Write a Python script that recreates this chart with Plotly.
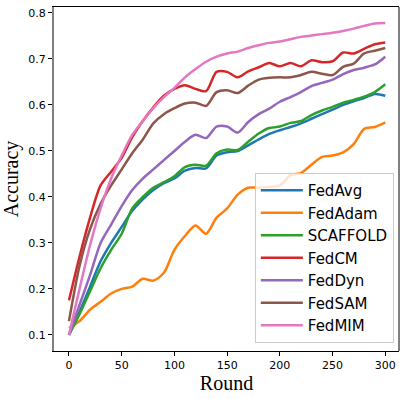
import plotly.graph_objects as go

rounds = list(range(0, 301, 10))

fedavg = [0.100, 0.150, 0.205, 0.260, 0.300, 0.335, 0.370, 0.395, 0.415, 0.430, 0.440,
          0.457, 0.463, 0.462, 0.490, 0.497, 0.500, 0.512, 0.525, 0.537, 0.545,
          0.552, 0.560, 0.570, 0.580, 0.590, 0.600, 0.608, 0.615, 0.624, 0.620]
fedadam = [0.115, 0.130, 0.155, 0.172, 0.190, 0.200, 0.205, 0.222, 0.218, 0.235, 0.285,
           0.315, 0.338, 0.320, 0.355, 0.375, 0.405, 0.420, 0.420, 0.422, 0.425,
           0.447, 0.452, 0.470, 0.487, 0.490, 0.497, 0.515, 0.548, 0.552, 0.562]
scaffold = [0.100, 0.145, 0.195, 0.245, 0.285, 0.320, 0.375, 0.400, 0.420, 0.432, 0.445,
            0.465, 0.470, 0.468, 0.495, 0.503, 0.502, 0.520, 0.538, 0.550, 0.553,
            0.561, 0.565, 0.578, 0.588, 0.596, 0.605, 0.611, 0.618, 0.628, 0.645]
fedcm = [0.175, 0.270, 0.355, 0.425, 0.455, 0.485, 0.530, 0.565, 0.595, 0.620, 0.635,
         0.643, 0.635, 0.630, 0.672, 0.672, 0.660, 0.673, 0.682, 0.691, 0.684,
         0.691, 0.684, 0.697, 0.693, 0.695, 0.714, 0.712, 0.722, 0.732, 0.736]
feddyn = [0.100, 0.165, 0.230, 0.300, 0.340, 0.380, 0.415, 0.440, 0.460, 0.480, 0.500,
          0.520, 0.535, 0.528, 0.553, 0.553, 0.540, 0.563, 0.580, 0.592, 0.607,
          0.617, 0.628, 0.641, 0.648, 0.655, 0.667, 0.676, 0.681, 0.688, 0.705]
fedsam = [0.130, 0.250, 0.330, 0.385, 0.425, 0.460, 0.495, 0.525, 0.560, 0.580, 0.593,
          0.603, 0.605, 0.598, 0.628, 0.632, 0.626, 0.642, 0.655, 0.659, 0.660,
          0.660, 0.665, 0.672, 0.668, 0.665, 0.683, 0.690, 0.712, 0.718, 0.724]
fedmim = [0.100, 0.200, 0.295, 0.375, 0.440, 0.490, 0.535, 0.565, 0.593, 0.617, 0.637,
          0.660, 0.678, 0.694, 0.705, 0.712, 0.716, 0.724, 0.730, 0.735, 0.738,
          0.743, 0.748, 0.751, 0.754, 0.757, 0.761, 0.766, 0.772, 0.777, 0.778]

names = ["FedAvg", "FedAdam", "SCAFFOLD", "FedCM", "FedDyn", "FedSAM", "FedMIM"]
series = [fedavg, fedadam, scaffold, fedcm, feddyn, fedsam, fedmim]
colors = ["#1f77b4", "#ff7f0e", "#2ca02c", "#d62728", "#9467bd", "#8c564b", "#e377c2"]

fig = go.Figure()
for name, ys, c in zip(names, series, colors):
    fig.add_trace(go.Scatter(x=rounds, y=ys, name=name, mode="lines",
                             line=dict(color=c, width=2.5, shape="spline", smoothing=0.8)))

tickfont = dict(family="DejaVu Sans", size=11, color="black")
titlefont = dict(family="Liberation Serif", size=20, color="black")

fig.update_layout(
    width=407, height=399,
    margin=dict(l=54, r=8, t=7, b=48),
    plot_bgcolor="white", paper_bgcolor="white",
    showlegend=True,
    legend=dict(x=0.985, y=0.023, xanchor="right", yanchor="bottom",
                bgcolor="rgba(255,255,255,0.8)", bordercolor="#cccccc", borderwidth=1,
                font=dict(family="DejaVu Sans", size=15, color="black"),
                itemwidth=42, tracegroupgap=0),
    xaxis=dict(range=[-14.2, 313], tickvals=[0, 50, 100, 150, 200, 250, 300],
               showgrid=False, zeroline=False, ticks="outside", ticklen=4,
               tickcolor="black", showline=True, linecolor="black", linewidth=1,
               mirror=True, tickfont=tickfont, automargin=False,
               title=dict(text="Round", font=titlefont, standoff=3)),
    yaxis=dict(range=[0.065, 0.813], tickvals=[0.1, 0.2, 0.3, 0.4, 0.5, 0.6, 0.7, 0.8],
               tickformat=".1f", showgrid=False, zeroline=False, ticks="outside",
               ticklen=4, tickcolor="black", showline=True, linecolor="#808080",
               linewidth=2, tickfont=tickfont, automargin=False,
               title=dict(text="Accuracy", font=titlefont, standoff=4)),
)
fig.add_shape(type="line", xref="paper", yref="paper", x0=1, x1=1, y0=0, y1=1,
              line=dict(color="black", width=1))

# page body has a default 8px margin; drop it so the figure sits at the corner
fig.write_html("out.html", config={"displayModeBar": False},
               post_script="document.body.style.margin='0';")
